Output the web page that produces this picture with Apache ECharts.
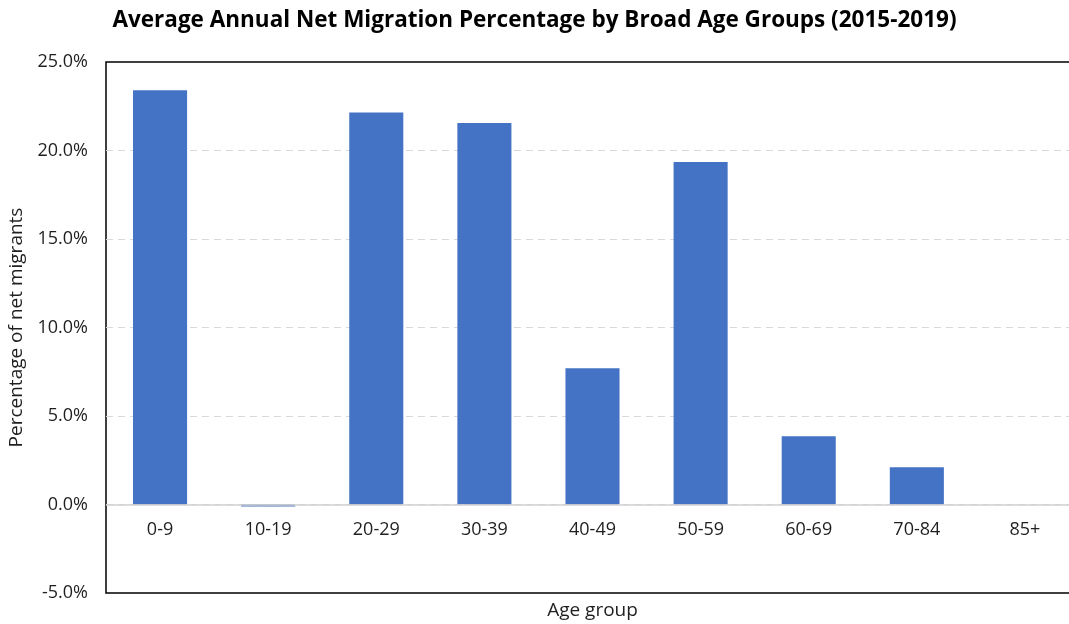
<!DOCTYPE html>
<html>
<head>
<meta charset="utf-8">
<script src="https://cdn.jsdelivr.net/npm/echarts@6/dist/echarts.min.js"></script>
<style>
  html, body { margin: 0; padding: 0; background: #fff; overflow: hidden; }
  #chart { width: 1069px; height: 624px; }
</style>
</head>
<body>
<div id="chart"></div>
<script>
// Age groups and their average annual share of net migrants (%)
const ageGroups = ['0-9', '10-19', '20-29', '30-39', '40-49', '50-59', '60-69', '70-84', '85+'];
const netMigrationPct = [23.4, -0.12, 22.15, 21.55, 7.7, 19.35, 3.85, 2.1, 0.0];

const FONT = '"Open Sans", "Noto Sans", sans-serif';
const TEXT = '#1f1f1f';

const chart = echarts.init(document.getElementById('chart'));
chart.setOption({
  animation: false,
  backgroundColor: '#ffffff',
  title: {
    text: 'Average Annual Net Migration Percentage by Broad Age Groups (2015-2019)',
    left: 'center',
    top: 4,
    textStyle: { fontFamily: FONT, fontSize: 22.5, fontWeight: 'bold', color: '#000' }
  },
  // the plot frame runs past the right edge of the canvas
  grid: {
    left: 106, right: -10, top: 62, bottom: 31,
    outerBoundsMode: 'none',
    show: true, borderColor: '#000', borderWidth: 1.5, backgroundColor: 'transparent'
  },
  xAxis: {
    type: 'category',
    data: ageGroups,
    name: 'Age group',
    nameLocation: 'middle',
    nameGap: 8,
    nameMoveOverlap: false,
    nameTextStyle: { fontFamily: FONT, fontSize: 19, color: TEXT, padding: [0, 0, 0, 0] },
    axisLine: { show: false, onZero: false },
    axisTick: { show: false },
    // labels sit just under the zero line, inside the plot frame
    axisLabel: { fontFamily: FONT, fontSize: 18, color: TEXT, margin: -72 }
  },
  yAxis: {
    type: 'value',
    min: -5, max: 25, interval: 5,
    name: 'Percentage of net migrants',
    nameLocation: 'middle',
    nameGap: 80,
    nameMoveOverlap: false,
    nameTextStyle: { fontFamily: FONT, fontSize: 19, color: TEXT },
    axisLine: { show: false },
    axisTick: { show: false },
    axisLabel: {
      fontFamily: FONT, fontSize: 18, color: TEXT, margin: 18,
      formatter: v => v.toFixed(1) + '%'
    },
    splitLine: {
      show: true,
      showMinLine: false,
      showMaxLine: false,
      lineStyle: { color: '#d9d9d9', type: [7, 5], width: 1.2 }
    }
  },
  series: [{
    type: 'bar',
    data: netMigrationPct,
    barWidth: '50%',
    itemStyle: { color: '#4472c4' },
    markLine: {
      silent: true,
      symbol: 'none',
      label: { show: false },
      lineStyle: { color: '#d0d0d0', type: 'solid', width: 1.5 },
      data: [{ yAxis: 0 }]
    }
  }]
});
</script>
</body>
</html>
